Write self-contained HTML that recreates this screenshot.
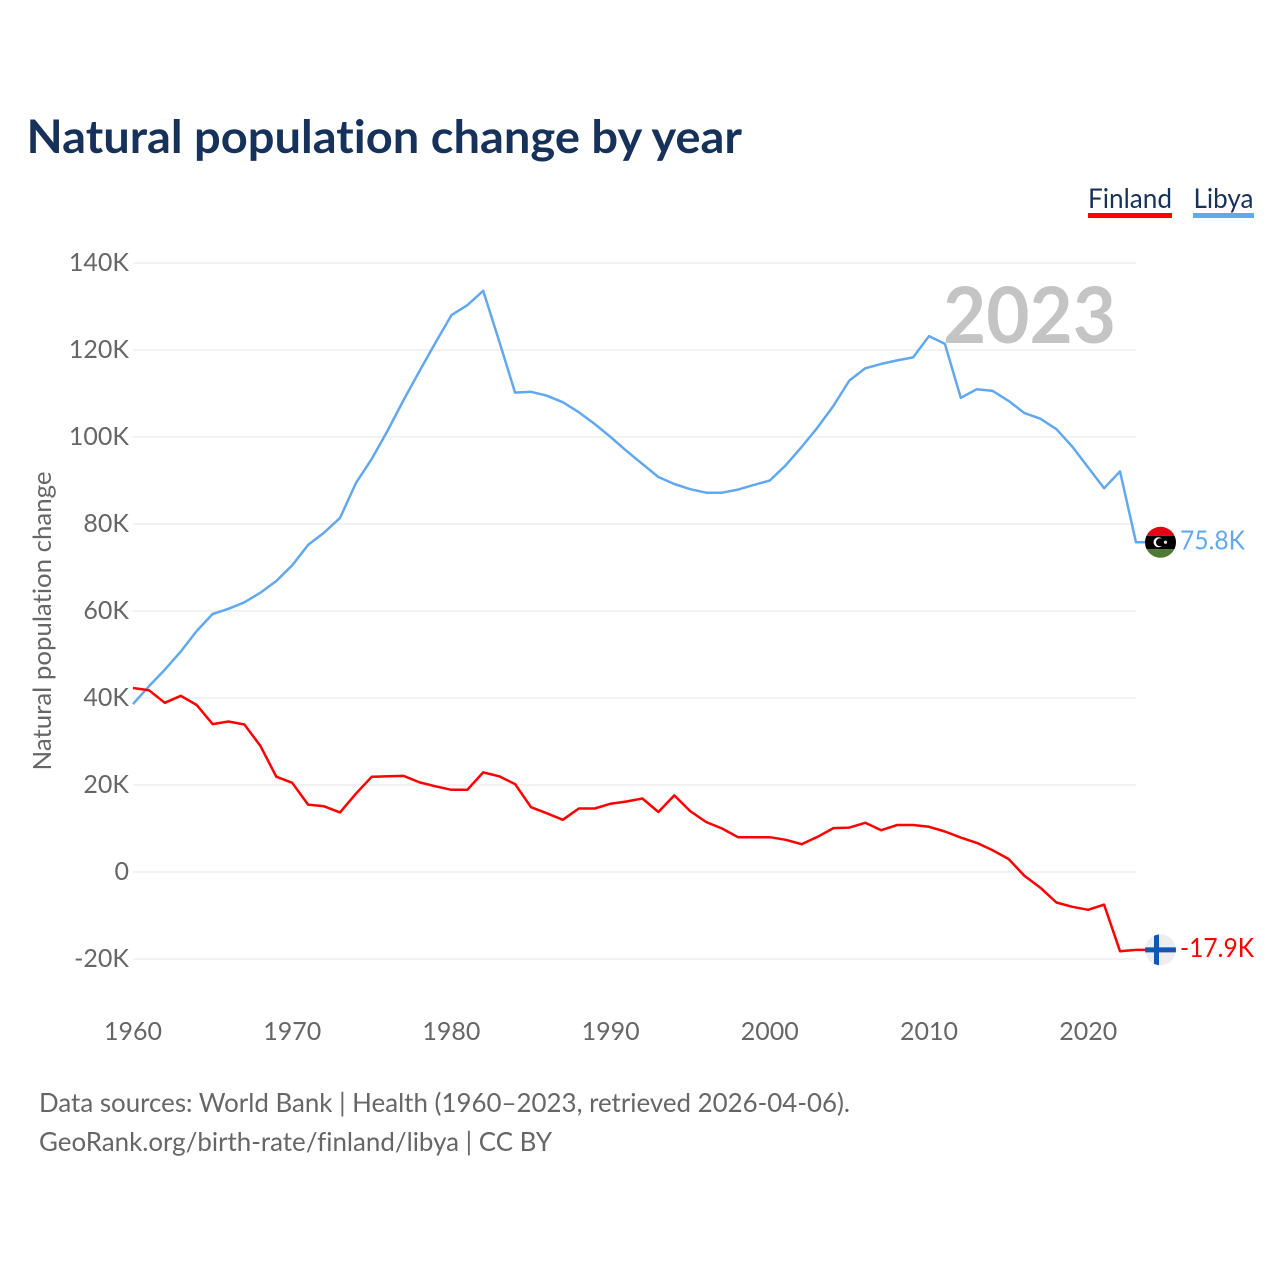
<!DOCTYPE html>
<html lang="en">
<head>
<meta charset="utf-8">
<title>Natural population change by year</title>
<style>
html,body{margin:0;padding:0;background:#fff;width:1280px;height:1280px;overflow:hidden}
svg{display:block}
text{font-family:"Lato","Carlito","Liberation Sans",sans-serif;font-variant-ligatures:none}
.tick{font-size:25px;fill:#666}
.src{font-size:26px;fill:#666}
</style>
</head>
<body>
<svg id="chart" width="1280" height="1280" viewBox="0 0 1280 1280" xmlns="http://www.w3.org/2000/svg">
  <rect width="1280" height="1280" fill="#fff"/>
  <text x="26.5" y="153" font-size="46" font-weight="700" fill="#17325a" textLength="715.5" lengthAdjust="spacingAndGlyphs">Natural population change by year</text>

  <g>
    <text x="1088" y="208" font-size="27" fill="#17325a" textLength="84" lengthAdjust="spacingAndGlyphs">Finland</text>
    <rect x="1088" y="213" width="84" height="5" fill="#ff0000"/>
  </g>
  <g>
    <text x="1193.5" y="208" font-size="27" fill="#17325a" textLength="60" lengthAdjust="spacingAndGlyphs">Libya</text>
    <rect x="1193" y="213" width="61" height="5" fill="#62a8ee"/>
  </g>

  <g id="grid"></g>
  <g id="yticks"></g>
  <g id="xticks"></g>

  <text transform="translate(51,621) rotate(-90)" text-anchor="middle" font-size="25" fill="#666" textLength="299" lengthAdjust="spacingAndGlyphs">Natural population change</text>

  <text x="1116" y="343" text-anchor="end" font-size="78" font-weight="700" fill="#c4c4c4" textLength="173" lengthAdjust="spacingAndGlyphs">2023</text>

  <g id="series"></g>

  <defs>
    <clipPath id="flag-clip-libya"><circle id="libya-clip-circle" r="15.5"/></clipPath>
    <clipPath id="flag-clip-finland"><circle id="finland-clip-circle" r="15.5"/></clipPath>
  </defs>

  <g id="flag-libya"></g>
  <g id="flag-finland"></g>
  <text id="value-libya" x="1180" font-size="26" fill="#62a8ee" textLength="65" lengthAdjust="spacingAndGlyphs">75.8K</text>
  <text id="value-finland" x="1180" font-size="26" fill="#ff0000" textLength="74" lengthAdjust="spacingAndGlyphs">-17.9K</text>

  <text class="src" x="39" y="1112" textLength="811" lengthAdjust="spacingAndGlyphs">Data sources: World Bank | Health (1960–2023, retrieved 2026-04-06).</text>
  <text class="src" x="39" y="1151" textLength="513" lengthAdjust="spacingAndGlyphs">GeoRank.org/birth-rate/finland/libya | CC BY</text>
</svg>

<script>
const startYear = 1960;
const xTickYears = [1960, 1970, 1980, 1990, 2000, 2010, 2020];
const yTickValues = [-20, 0, 20, 40, 60, 80, 100, 120, 140];
const yTickLabels = ['-20K', '0', '20K', '40K', '60K', '80K', '100K', '120K', '140K'];
const libyaValues = [38.6, 42.7, 46.5, 50.7, 55.4, 59.3, 60.5, 62, 64.2, 66.9,
  70.5, 75.2, 78, 81.4, 89.4, 95, 101.5, 108.5, 115.2, 121.7,
  128, 130.3, 133.6, 122, 110.2, 110.4, 109.5, 108, 105.7, 103,
  100, 96.8, 93.8, 90.8, 89.2, 88, 87.2, 87.2, 87.9, 89,
  90, 93.5, 97.7, 102.2, 107.2, 113, 115.8, 116.8, 117.6, 118.3,
  123.2, 121.4, 109, 111, 110.6, 108.3, 105.5, 104.2, 101.8, 97.8,
  93, 88.2, 92.1, 75.8];
const finlandValues = [42.3, 41.8, 38.9, 40.5, 38.4, 34, 34.6, 33.9, 29, 21.9,
  20.5, 15.5, 15.1, 13.7, 18, 21.9, 22, 22.1, 20.6, 19.7,
  18.9, 18.9, 22.9, 22, 20.2, 14.9, 13.5, 12, 14.6, 14.6,
  15.7, 16.2, 16.9, 13.8, 17.6, 14, 11.5, 10, 8, 8,
  8, 7.4, 6.4, 8.1, 10.1, 10.2, 11.3, 9.6, 10.8, 10.8,
  10.4, 9.3, 7.9, 6.7, 5, 3, -0.9, -3.6, -7, -8,
  -8.7, -7.5, -18.2, -17.9];

const NS = 'http://www.w3.org/2000/svg';
function xScale(year) { return 133 + (year - 1960) * 15.92; }
function yScale(v) { return 872 - v * 4.35; }
function make(tag, attrs, parent) {
  const el = document.createElementNS(NS, tag);
  for (const k in attrs) el.setAttribute(k, attrs[k]);
  parent.appendChild(el);
  return el;
}

const grid = document.getElementById('grid');
const yticks = document.getElementById('yticks');
const xticks = document.getElementById('xticks');
yTickValues.forEach(function (v, i) {
  const line = make('line', {x1: 133, x2: 1136, y1: yScale(v), y2: yScale(v), stroke: '#eeeeee', 'stroke-width': 1.5}, grid);
  
  
  const t = make('text', {x: 129, y: yScale(v) + 8, 'text-anchor': 'end', class: 'tick'}, yticks);
  
  
  t.textContent = yTickLabels[i];
});
xTickYears.forEach(function (yr) {
  const t = make('text', {x: xScale(yr), y: 1040, 'text-anchor': 'middle', class: 'tick'}, xticks);
  
  
  t.textContent = yr;
});

function linePoints(values) {
  const pts = values.map(function (v, i) { return xScale(startYear + i).toFixed(1) + ',' + yScale(v).toFixed(1); });
  pts.push((xScale(startYear + values.length - 1) + 9).toFixed(1) + ',' + yScale(values[values.length - 1]).toFixed(1));
  return pts.join(' ');
}
const series = document.getElementById('series');
const libyaLine = make('polyline', {points: linePoints(libyaValues), fill: 'none', stroke: '#62a8ee', 'stroke-width': 2.5, 'stroke-linejoin': 'round'}, series);


const finlandLine = make('polyline', {points: linePoints(finlandValues), fill: 'none', stroke: '#ff0000', 'stroke-width': 2.5, 'stroke-linejoin': 'round'}, series);



const flagX = 1160.5;
const libyaY = yScale(libyaValues[libyaValues.length - 1]);
const finlandY = yScale(finlandValues[finlandValues.length - 1]);

document.getElementById('libya-clip-circle').setAttribute('cx', flagX);
document.getElementById('libya-clip-circle').setAttribute('cy', libyaY);
document.getElementById('finland-clip-circle').setAttribute('cx', flagX);
document.getElementById('finland-clip-circle').setAttribute('cy', finlandY);

const fl = document.getElementById('flag-libya');
fl.setAttribute('clip-path', 'url(#flag-clip-libya)');
make('rect', {x: flagX - 16, y: libyaY - 16, width: 32, height: 9.5, fill: '#e70013'}, fl);
make('rect', {x: flagX - 16, y: libyaY - 6.5, width: 32, height: 13.5, fill: '#000000'}, fl);
make('rect', {x: flagX - 16, y: libyaY + 7, width: 32, height: 9, fill: '#4f7a32'}, fl);
make('circle', {cx: flagX - 2, cy: libyaY, r: 5, fill: '#ffffff'}, fl);
make('circle', {cx: flagX - 0.5, cy: libyaY, r: 4, fill: '#000000'}, fl);
make('circle', {cx: flagX + 5, cy: libyaY, r: 1.6, fill: '#dddddd'}, fl);

const ff = document.getElementById('flag-finland');
ff.setAttribute('clip-path', 'url(#flag-clip-finland)');
make('rect', {x: flagX - 16, y: finlandY - 16, width: 32, height: 32, fill: '#eeeef0'}, ff);
make('rect', {x: flagX - 16, y: finlandY - 2.5, width: 32, height: 5, fill: '#0f56b5'}, ff);
make('rect', {x: flagX - 6.5, y: finlandY - 16, width: 5, height: 32, fill: '#0f56b5'}, ff);

document.getElementById('value-libya').setAttribute('y', libyaY + 7);
document.getElementById('value-finland').setAttribute('y', finlandY + 7);
</script>
</body>
</html>
